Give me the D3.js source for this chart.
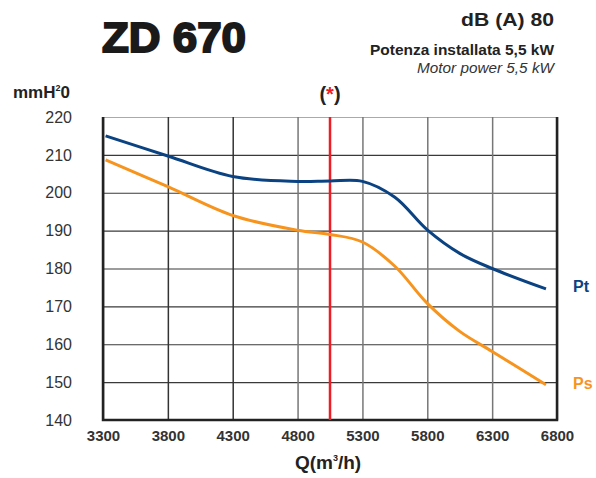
<!DOCTYPE html>
<html>
<head>
<meta charset="utf-8">
<script src="https://cdn.jsdelivr.net/npm/d3@7"></script>
<style>
  body { margin: 0; background: #fff; }
  svg { display: block; }
  .narrow { font-family: "Liberation Sans Narrow", "Liberation Sans", Arial, sans-serif; }
</style>
</head>
<body>
<svg id="chart" width="596" height="478"></svg>
<script>
// portata (m3/h) e pressioni (mmH2O)
var flow = [3320, 3800, 4300, 4800, 5050, 5300, 5550, 5800, 6050, 6300, 6715];
var pt = [215, 209.7, 204.3, 203.0, 203.1, 203.0, 198.8, 190.2, 184, 180, 174.6];
var ps = [208.7, 201.6, 194, 190.1, 189, 187, 180.6, 170.8, 163.4, 158.1, 149.3];

var xTicks = [3300, 3800, 4300, 4800, 5300, 5800, 6300, 6800];
var yTicks = [140, 150, 160, 170, 180, 190, 200, 210, 220];
var dutyFlow = 5050;

var blue = '#0b4382';
var orange = '#f7941d';
var red = '#ee1c25';

var svg = d3.select('#chart');

var margin = {left: 103, right: 39, top: 117, bottom: 58};
var width = 596 - margin.left - margin.right;
var height = 478 - margin.top - margin.bottom;

var x = d3.scaleLinear().domain([3300, 6800]).range([0, width]);
var y = d3.scaleLinear().domain([140, 220]).range([height, 0]);

var g = svg.append('g')
  .attr('transform', 'translate(' + margin.left + ',' + margin.top + ')');

// griglia + etichette
var yAxis = g.append('g')
  .call(d3.axisLeft(y).tickValues(yTicks).tickSize(-width).tickPadding(31).tickFormat(d3.format('d')));
yAxis.select('.domain').remove();
yAxis.selectAll('line').attr('stroke', '#3a3a3a').attr('stroke-width', 1.2);
yAxis.selectAll('text')
  .attr('font-size', 16)
  .attr('fill', '#333')
  .attr('font-family', '"Liberation Sans", Arial, sans-serif');
yAxis.selectAll('.tick')
  .filter(function(d) { return d === 220; })
  .select('line').attr('stroke', '#aaa');

var xAxis = g.append('g')
  .attr('transform', 'translate(0,' + height + ')')
  .call(d3.axisBottom(x).tickValues(xTicks).tickSize(-height).tickPadding(10).tickFormat(d3.format('d')));
xAxis.select('.domain').remove();
xAxis.selectAll('line')
  .attr('stroke', function(d) { return d <= 4300 ? '#333' : '#777'; })
  .attr('stroke-width', 1.5);
xAxis.selectAll('text')
  .attr('font-size', 15)
  .attr('font-weight', 'bold')
  .attr('fill', '#333')
  .attr('font-family', '"Liberation Sans Narrow", "Liberation Sans", Arial, sans-serif');

// cornice
g.append('path')
  .attr('d', 'M0,0V' + height + 'H' + width + 'V0')
  .attr('fill', 'none')
  .attr('stroke', '#222')
  .attr('stroke-width', 2.5);

// linea rossa punto di lavoro
g.append('line')
  .attr('x1', x(dutyFlow)).attr('x2', x(dutyFlow))
  .attr('y1', 0).attr('y2', height)
  .attr('stroke', red)
  .attr('stroke-width', 2.5);

var line = d3.line()
  .x(function(d) { return x(d[0]); })
  .y(function(d) { return y(d[1]); })
  .curve(d3.curveCatmullRom.alpha(0.5));

g.append('path')
  .datum(d3.zip(flow, pt))
  .attr('d', line)
  .attr('fill', 'none')
  .attr('stroke', blue)
  .attr('stroke-width', 3);

g.append('path')
  .datum(d3.zip(flow, ps))
  .attr('d', line)
  .attr('fill', 'none')
  .attr('stroke', orange)
  .attr('stroke-width', 3);

// etichette curve
g.append('text')
  .attr('class', 'narrow')
  .attr('x', width + 16).attr('y', y(pt[pt.length - 1]) + 3)
  .attr('font-size', 16).attr('font-weight', 'bold')
  .attr('fill', blue)
  .text('Pt');

g.append('text')
  .attr('class', 'narrow')
  .attr('x', width + 16).attr('y', y(ps[ps.length - 1]) + 4)
  .attr('font-size', 16).attr('font-weight', 'bold')
  .attr('fill', orange)
  .text('Ps');

// testi intestazione
svg.append('text')
  .attr('x', 102).attr('y', 52)
  .attr('font-family', '"Liberation Sans", Arial, sans-serif')
  .attr('font-size', 43).attr('font-weight', 900)
  .attr('fill', '#1a1a1a')
  .attr('stroke', '#1a1a1a').attr('stroke-width', 2)
  .attr('textLength', 144).attr('lengthAdjust', 'spacingAndGlyphs')
  .text('ZD 670');

svg.append('text')
  .attr('class', 'narrow')
  .attr('x', 554).attr('y', 26)
  .attr('text-anchor', 'end')
  .attr('font-size', 18).attr('font-weight', 'bold')
  .attr('fill', '#222')
  .attr('textLength', 93).attr('lengthAdjust', 'spacingAndGlyphs')
  .text('dB (A) 80');

svg.append('text')
  .attr('class', 'narrow')
  .attr('x', 554).attr('y', 55)
  .attr('text-anchor', 'end')
  .attr('font-size', 15).attr('font-weight', 'bold')
  .attr('fill', '#222')
  .attr('textLength', 184).attr('lengthAdjust', 'spacingAndGlyphs')
  .text('Potenza installata 5,5 kW');

svg.append('text')
  .attr('class', 'narrow')
  .attr('x', 554).attr('y', 73)
  .attr('text-anchor', 'end')
  .attr('font-size', 15).attr('font-style', 'italic')
  .attr('fill', '#333')
  .attr('textLength', 137).attr('lengthAdjust', 'spacingAndGlyphs')
  .text('Motor power 5,5 kW');

var unit = svg.append('text')
  .attr('class', 'narrow')
  .attr('x', 13).attr('y', 98)
  .attr('font-size', 17).attr('font-weight', 'bold')
  .attr('fill', '#222');
unit.append('tspan').text('mmH');
unit.append('tspan').attr('font-size', 9).attr('dy', -7).text('2');
unit.append('tspan').attr('dy', 7).text('0');

var star = svg.append('text')
  .attr('class', 'narrow')
  .attr('x', 330).attr('y', 101)
  .attr('text-anchor', 'middle')
  .attr('font-size', 20).attr('font-weight', 'bold')
  .attr('fill', '#222');
star.append('tspan').text('(');
star.append('tspan').attr('fill', red).text('*');
star.append('tspan').text(')');

var qLabel = svg.append('text')
  .attr('class', 'narrow')
  .attr('x', 328).attr('y', 469)
  .attr('text-anchor', 'middle')
  .attr('font-size', 19).attr('font-weight', 'bold')
  .attr('fill', '#222');
qLabel.append('tspan').text('Q(m');
qLabel.append('tspan').attr('font-size', 9).attr('dy', -8).text('3');
qLabel.append('tspan').attr('dy', 8).text('/h)');
</script>
</body>
</html>
